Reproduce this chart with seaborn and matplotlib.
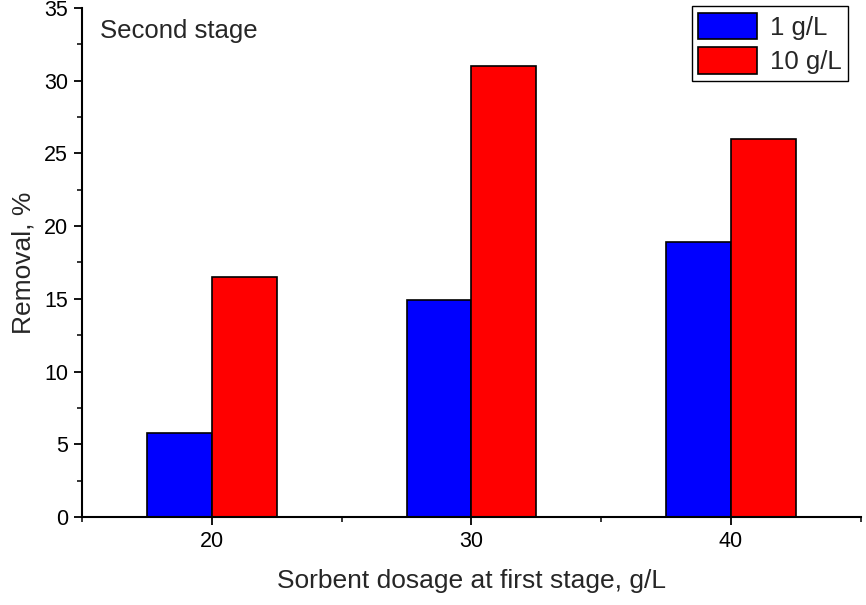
import matplotlib
matplotlib.use("Agg")
import matplotlib.pyplot as plt
from matplotlib.ticker import MultipleLocator
import seaborn as sns
import pandas as pd

# Sorbent dosage at first stage (g/L) and removal (%) in the second stage
dosages = [20, 30, 40]
removal_1gL = [5.8, 14.9, 18.9]
removal_10gL = [16.5, 31.0, 26.0]
series_labels = ["1 g/L", "10 g/L"]

df = pd.DataFrame({
    "dosage": dosages * 2,
    "removal": removal_1gL + removal_10gL,
    "series": [series_labels[0]] * 3 + [series_labels[1]] * 3,
})

sns.set_style("ticks")
plt.rcParams["font.family"] = ["Liberation Sans", "DejaVu Sans"]

fig = plt.figure(figsize=(8.66, 6.05), dpi=100)
ax = fig.add_axes([0.0947, 0.1455, 0.8993, 0.8413])

sns.barplot(data=df, x="dosage", y="removal", hue="series",
            native_scale=True, width=0.5, gap=0, saturation=1,
            palette=["#0000ff", "#ff0000"], edgecolor="black",
            linewidth=1.2, ax=ax)

ax.set_xlim(15, 45)
ax.set_ylim(0, 35)
ax.set_xticks(dosages)
ax.xaxis.set_minor_locator(MultipleLocator(5))
ax.yaxis.set_major_locator(MultipleLocator(5))
ax.yaxis.set_minor_locator(MultipleLocator(2.5))
ax.tick_params(axis="both", which="major", direction="out", length=6,
               width=1.3, labelsize=15.5, colors="black", pad=4)
ax.tick_params(axis="both", which="minor", direction="out", length=3.5,
               width=1.3)
for side in ("top", "right"):
    ax.spines[side].set_visible(False)
for side in ("left", "bottom"):
    ax.spines[side].set_linewidth(1.5)
    ax.spines[side].set_color("black")

ax.set_xlabel("Sorbent dosage at first stage, g/L", fontsize=19, labelpad=12)
ax.set_ylabel("Removal, %", fontsize=19, labelpad=6)

ax.text(0.023, 0.978, "Second stage", transform=ax.transAxes,
        fontsize=18.5, va="top", ha="left")

leg = ax.legend(loc="upper right", bbox_to_anchor=(0.984, 1.003),
                fontsize=18.5, handlelength=2.3, handleheight=1.2,
                fancybox=False, framealpha=1, edgecolor="black",
                borderpad=0.25, labelspacing=0.3, handletextpad=0.5,
                borderaxespad=0.0)
leg.get_frame().set_linewidth(1.0)

fig.savefig("out.png", dpi=100)
